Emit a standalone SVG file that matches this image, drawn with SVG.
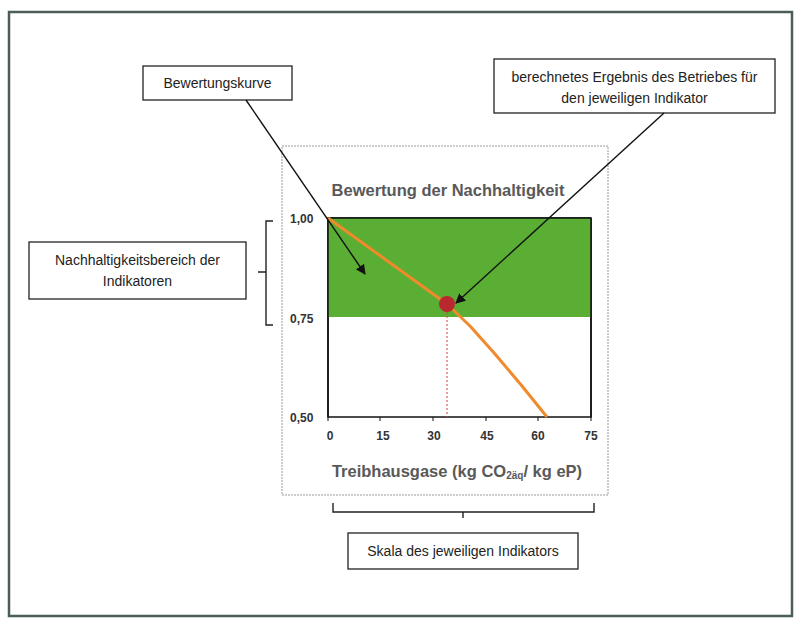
<svg xmlns="http://www.w3.org/2000/svg" width="800" height="618" viewBox="0 0 800 618">
<defs>
<style>
.box{fill:#fff;stroke:#222;stroke-width:1.3}
.lbl{font-family:"Liberation Sans",Arial,sans-serif;font-size:14px;fill:#222;text-anchor:middle}
.ax{font-family:"Liberation Sans",Arial,sans-serif;font-size:12px;fill:#333;font-weight:bold}
.ttl{font-family:"Liberation Sans",Arial,sans-serif;font-weight:bold;fill:#595959;text-anchor:middle}
.conn{stroke:#111;stroke-width:1.4;fill:none}
.brace{stroke:#222;stroke-width:1.4;fill:none}
</style>
<marker id="ah" viewBox="0 0 10 10" refX="9" refY="5" markerWidth="10" markerHeight="10" markerUnits="userSpaceOnUse" orient="auto">
<path d="M0,0 L10,5 L0,10 z" fill="#111"/>
</marker>
</defs>
<rect width="800" height="618" fill="#fff"/>
<rect x="9" y="12" width="783" height="604" fill="none" stroke="#4b5e55" stroke-width="2.5"/>

<g id="chart">
<rect x="282" y="146" width="326" height="349" fill="#fff" stroke="#9a9a9a" stroke-width="1" stroke-dasharray="2 1"/>
<text class="ttl" x="448" y="196" font-size="16.5">Bewertung der Nachhaltigkeit</text>
<rect x="328" y="218" width="263" height="199" fill="#fff" stroke="#111" stroke-width="1.5"/>
<rect x="328" y="218" width="263" height="99" fill="#5aae34"/>
<line x1="328" y1="218" x2="591" y2="218" stroke="#111" stroke-width="1.5"/>
<line x1="328" y1="218" x2="328" y2="417" stroke="#111" stroke-width="1.5"/>
<line x1="591" y1="218" x2="591" y2="417" stroke="#111" stroke-width="1.5"/>
<g stroke="#111" stroke-width="1">
<line x1="328" y1="417" x2="328" y2="421"/><line x1="380" y1="417" x2="380" y2="421"/><line x1="433" y1="417" x2="433" y2="421"/><line x1="486" y1="417" x2="486" y2="421"/><line x1="538" y1="417" x2="538" y2="421"/><line x1="591" y1="417" x2="591" y2="421"/>
</g>
<line x1="447" y1="304" x2="447" y2="417" stroke="#d04040" stroke-width="1" stroke-dasharray="2 2"/>
<polyline points="328,218 447,304 470,326 495,354 522,386 547,417" fill="none" stroke="#f08a2c" stroke-width="3" stroke-linejoin="round"/>
<circle cx="447" cy="304" r="8" fill="#b8282e"/>
<text class="ax" x="290" y="223">1,00</text>
<text class="ax" x="290" y="323">0,75</text>
<text class="ax" x="290" y="422">0,50</text>
<g class="ax" text-anchor="middle">
<text x="330" y="440">0</text><text x="383" y="440">15</text><text x="434" y="440">30</text><text x="487" y="440">45</text><text x="538" y="440">60</text><text x="591" y="440">75</text>
</g>
<text class="ttl" x="457" y="477" font-size="16.5">Treibhausgase (kg CO<tspan font-size="10" dy="2">2äq</tspan><tspan dy="-2">/ kg eP)</tspan></text>
</g>

<g id="node-bewertungskurve">
<rect class="box" x="143" y="66" width="149" height="34"/>
<text class="lbl" x="217.5" y="88">Bewertungskurve</text>
</g>

<g id="node-ergebnis">
<rect class="box" x="494" y="59" width="281" height="54"/>
<text class="lbl" x="634.5" y="82" font-size="13.5">berechnetes Ergebnis des Betriebes für</text>
<text class="lbl" x="634.5" y="103" font-size="13.5">den jeweiligen Indikator</text>
</g>

<g id="node-nachhaltigkeitsbereich">
<rect class="box" x="29" y="242" width="217" height="57"/>
<text class="lbl" x="137.5" y="265">Nachhaltigkeitsbereich der</text>
<text class="lbl" x="137.5" y="286">Indikatoren</text>
</g>

<g id="node-skala">
<rect class="box" x="348" y="533" width="230" height="36"/>
<text class="lbl" x="463" y="556">Skala des jeweiligen Indikators</text>
</g>

<g id="connectors">
<line class="conn" x1="246" y1="100" x2="365" y2="274" marker-end="url(#ah)"/>
<line class="conn" x1="664" y1="113" x2="456" y2="303" marker-end="url(#ah)"/>
<path class="brace" d="M273,221 L266,221 L266,272 L258,272 M266,272 L266,325 L273,325"/>
<path class="brace" d="M333,503 L333,512 L594,512 L594,503 M463,512 L463,518"/>
</g>
</svg>
